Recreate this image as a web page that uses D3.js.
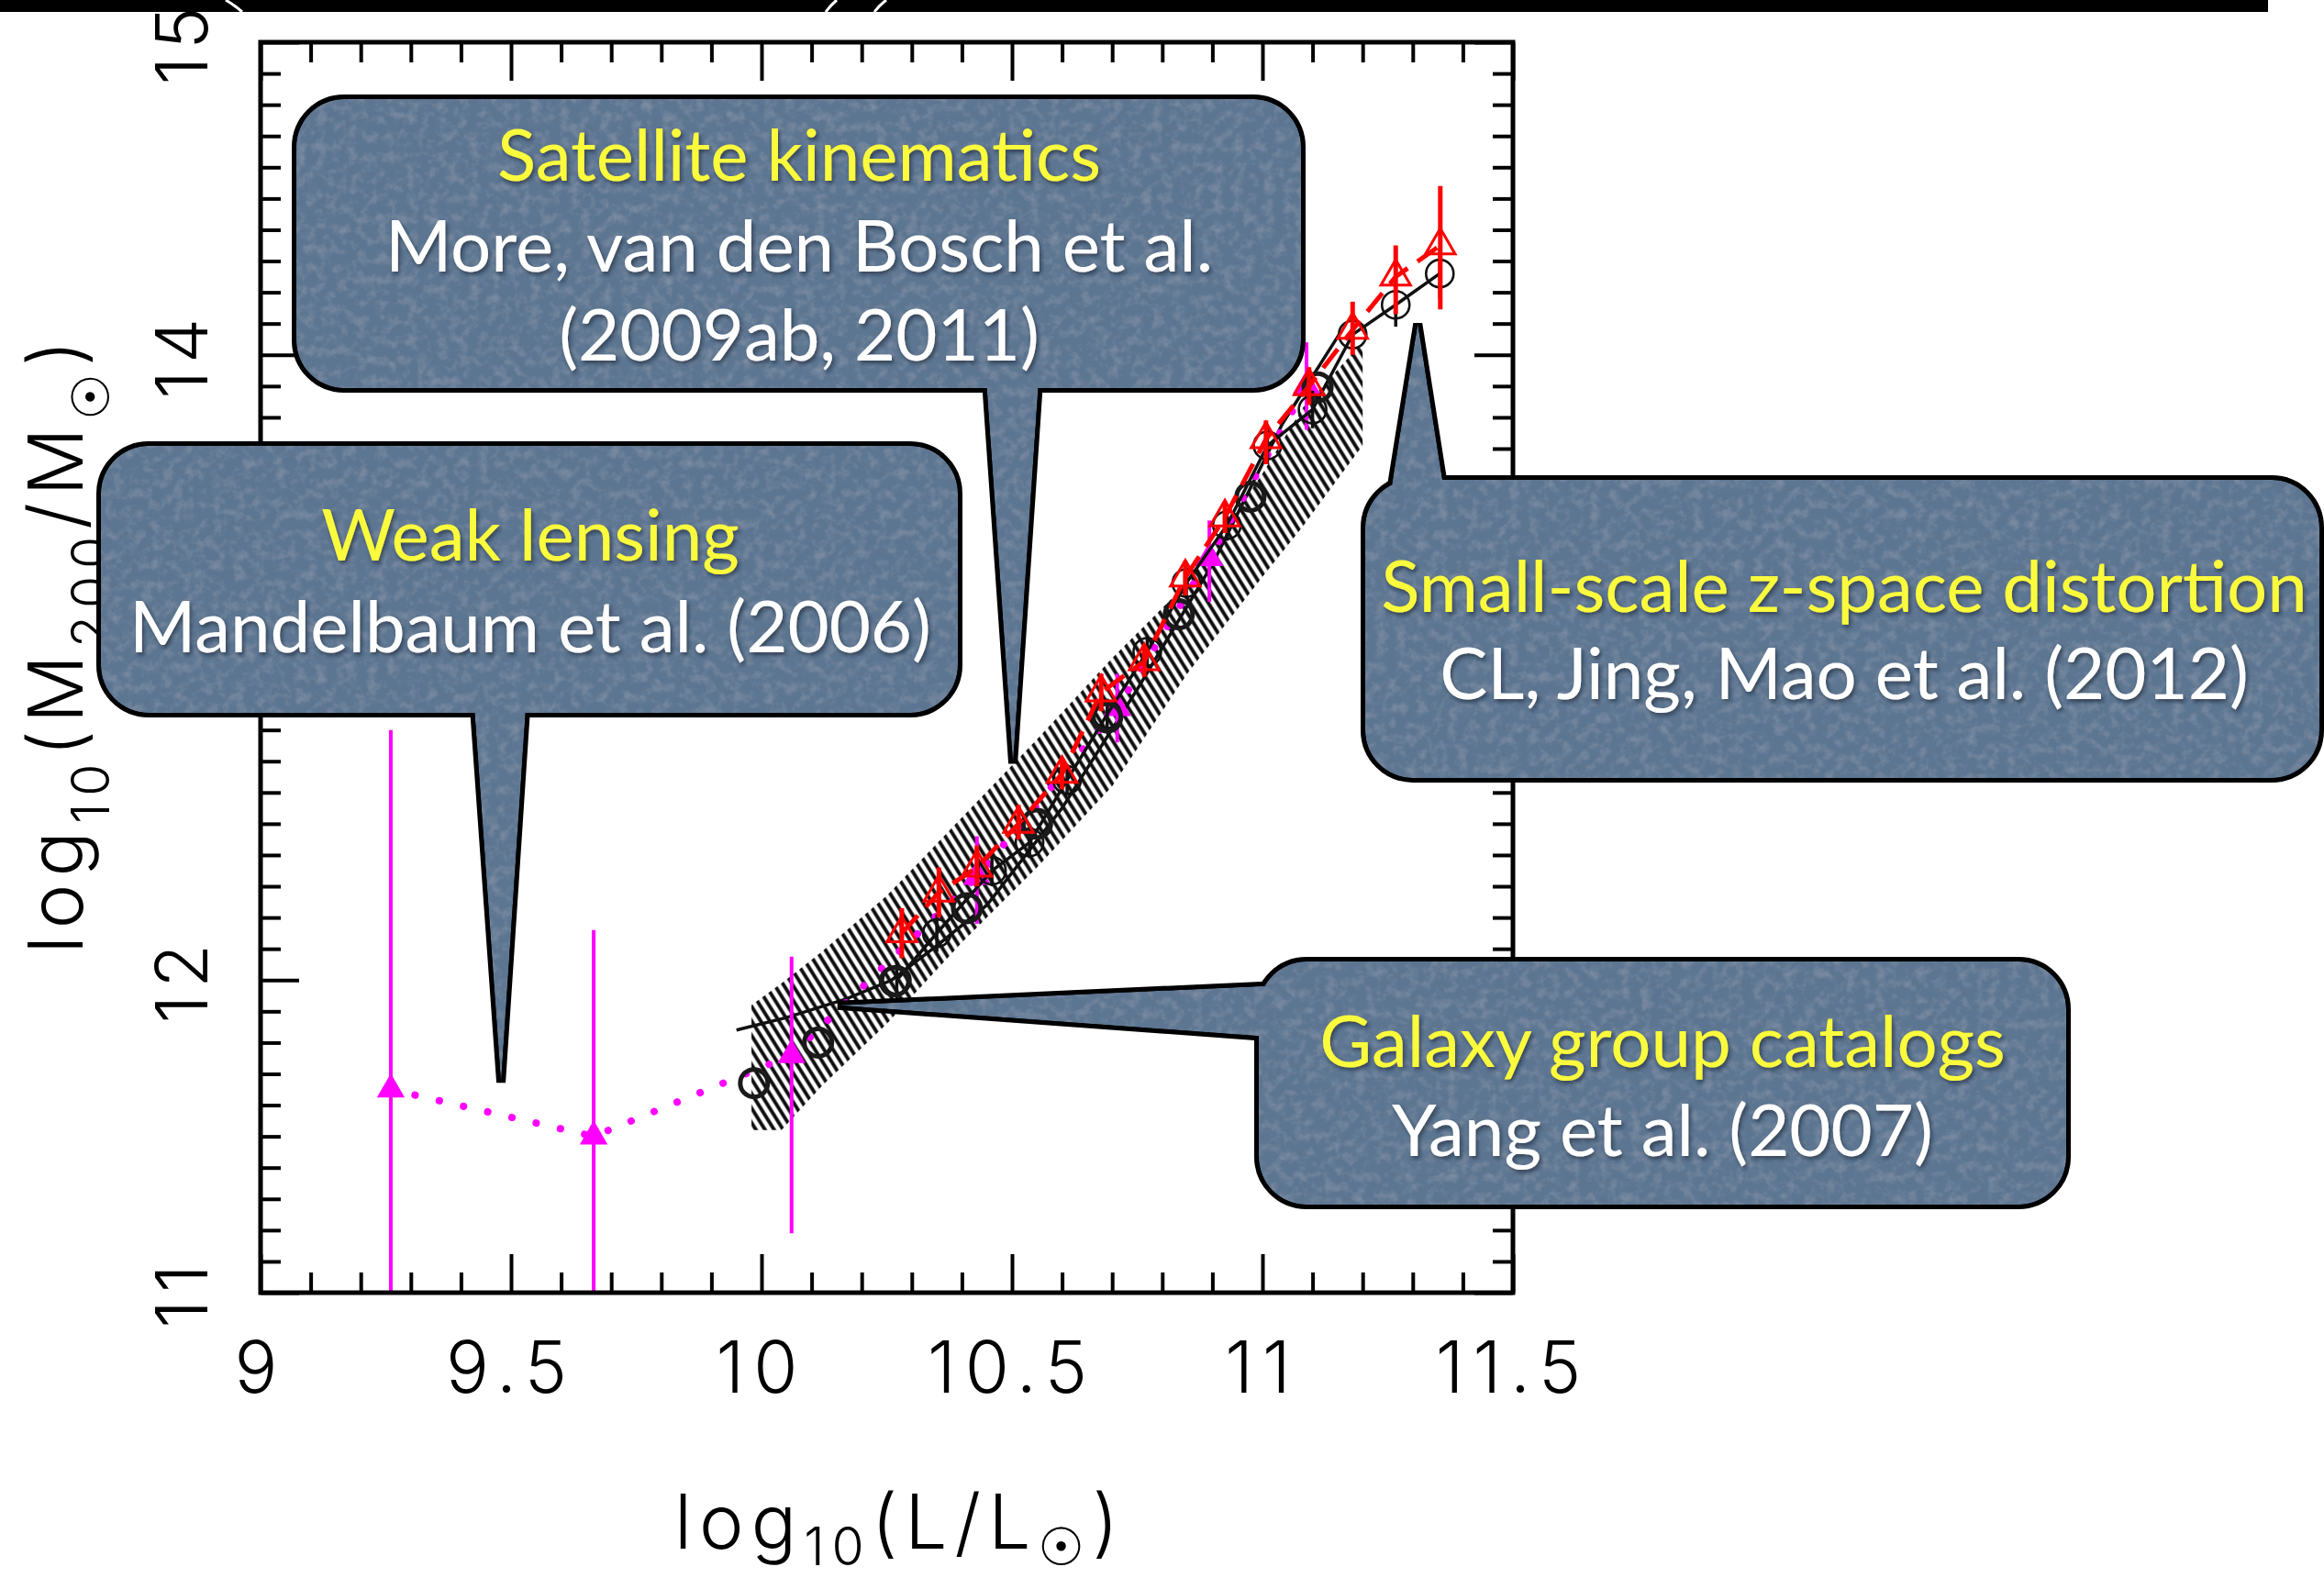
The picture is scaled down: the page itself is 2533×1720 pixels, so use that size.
<!DOCTYPE html>
<html>
<head>
<meta charset="utf-8">
<script src="https://cdn.jsdelivr.net/npm/d3@7"></script>
<style>
  html, body { margin: 0; padding: 0; background: #fff; }
  svg { display: block; }
</style>
</head>
<body>
<script>
// ---------------------------------------------------------------
// Halo mass vs. luminosity: four independent constraints
// ---------------------------------------------------------------

// axis ticks
const xMajor = [9, 9.5, 10, 10.5, 11, 11.5];
const xLabels = ["9", "9.5", "10", "10.5", "11", "11.5"];
const yMajor = [11, 12, 13, 14, 15];
const yLabels = ["11", "12", "13", "14", "15"];

// weak lensing: filled magenta triangles joined by a dotted line
const lensX  = [9.26, 9.665, 10.06, 10.43, 10.71, 10.894, 11.088];
const lensY  = [11.65, 11.50, 11.76, 12.33, 12.87, 13.35, 13.90];
const lensLo = [10.80, 10.80, 11.19, 12.18, 12.76, 13.21, 13.76];
const lensHi = [12.80, 12.16, 12.075, 12.46, 12.98, 13.47, 14.04];

// group catalogue: hatched range and mean relation
const bandX  = [9.98, 10.04, 10.12, 10.25, 10.40, 10.55, 10.70, 10.85, 11.00, 11.08, 11.20];
const bandLo = [11.52, 11.52, 11.66, 11.86, 12.12, 12.36, 12.62, 12.98, 13.29, 13.45, 13.71];
const bandHi = [11.92, 11.99, 12.09, 12.27, 12.52, 12.77, 13.03, 13.27, 13.62, 13.83, 14.04];
const groupX = [9.95, 10.05, 10.17, 10.26, 10.35, 10.45, 10.60, 10.75, 10.90, 11.04, 11.155];
const groupY = [11.84, 11.88, 11.94, 12.00, 12.11, 12.24, 12.55, 12.93, 13.33, 13.78, 14.07];

// satellite kinematics: heavy open circles
const boldX = [9.985, 10.113, 10.266, 10.41, 10.55, 10.69, 10.833, 10.976, 11.11];
const boldY = [11.67, 11.80, 11.996, 12.23, 12.50, 12.84, 13.17, 13.546, 13.896];

// redshift-space distortion: open circles (solid line) and open triangles (dashed)
const circX   = [10.27, 10.35, 10.46, 10.535, 10.61, 10.69, 10.77, 10.848, 10.929, 11.01, 11.10, 11.18, 11.266, 11.354];
const circY   = [12.00, 12.15, 12.35, 12.44, 12.64, 12.85, 13.05, 13.27, 13.455, 13.71, 13.825, 14.065, 14.16, 14.26];
const circErr = [0.06, 0.06, 0.05, 0.05, 0.05, 0.05, 0.05, 0.05, 0.05, 0.06, 0.06, 0.07, 0.07, 0.08];

const triX  = [10.28, 10.354, 10.43, 10.513, 10.60, 10.678, 10.764, 10.846, 10.925, 11.007, 11.093, 11.18, 11.266, 11.355];
const triY  = [12.15, 12.28, 12.36, 12.50, 12.66, 12.92, 13.02, 13.288, 13.48, 13.73, 13.90, 14.08, 14.25, 14.35];
const triLo = [12.07, 12.20, 12.30, 12.45, 12.61, 12.86, 12.97, 13.23, 13.43, 13.65, 13.84, 14.00, 14.13, 14.145];
const triHi = [12.23, 12.36, 12.43, 12.56, 12.71, 12.98, 13.07, 13.34, 13.53, 13.79, 13.96, 14.17, 14.35, 14.54];

// call-out text and where each pointer lands (data units)
const calloutTitles = ["Satellite kinematics", "Weak lensing", "Small-scale z-space distortion", "Galaxy group catalogs"];
const calloutRefs = [
  ["More, van den Bosch et al.", "(2009ab, 2011)"],
  ["Mandelbaum et al. (2006)"],
  ["CL, Jing, Mao et al. (2012)"],
  ["Yang et al. (2007)"]
];
const calloutTips = [[10.502, 12.693], [9.48, 11.672], [11.31, 14.10], [10.152, 11.919]];

// ---------------------------------------------------------------
const W = 2533, H = 1720;
const frame = { left: 284, right: 1649, top: 46, bottom: 1409 };

const svg = d3.select("body").append("svg")
  .attr("width", W).attr("height", H).attr("viewBox", `0 0 ${W} ${H}`);
svg.append("rect").attr("width", W).attr("height", H).attr("fill", "#fff");

const x = d3.scaleLinear().domain([9, 11.5]).range([frame.left, frame.right]);
const y = d3.scaleLinear().domain([11, 15]).range([frame.bottom, frame.top]);

const defs = svg.append("defs");

// diagonal hatching for the group range
const hatch = defs.append("pattern")
  .attr("id", "hatch").attr("patternUnits", "userSpaceOnUse")
  .attr("width", 8.4).attr("height", 40)
  .attr("patternTransform", "rotate(-32)");
hatch.append("line")
  .attr("x1", 4.2).attr("x2", 4.2).attr("y1", -10).attr("y2", 50)
  .attr("stroke", "#0d0d0d").attr("stroke-width", 3.9);

defs.append("clipPath").attr("id", "plotClip")
  .append("rect")
  .attr("x", frame.left).attr("y", frame.top)
  .attr("width", frame.right - frame.left).attr("height", frame.bottom - frame.top);

// soft slate texture for the call-outs
const grain = defs.append("filter").attr("id", "grain")
  .attr("filterUnits", "userSpaceOnUse")
  .attr("x", 0).attr("y", 0).attr("width", W).attr("height", H);
grain.append("feTurbulence").attr("type", "fractalNoise")
  .attr("baseFrequency", "0.09").attr("numOctaves", 4).attr("seed", 11).attr("result", "noise");
grain.append("feColorMatrix").attr("in", "noise").attr("type", "matrix")
  .attr("values", "0 0 0 0 1  0 0 0 0 1  0 0 0 0 1  0.22 0 0 0 -0.095").attr("result", "light");
grain.append("feColorMatrix").attr("in", "noise").attr("type", "matrix")
  .attr("values", "0 0 0 0 0.1  0 0 0 0 0.15  0 0 0 0 0.25  -0.22 0 0 0 0.09").attr("result", "dark");
const gm = grain.append("feMerge").attr("result", "merged");
gm.append("feMergeNode").attr("in", "SourceGraphic");
gm.append("feMergeNode").attr("in", "light");
gm.append("feMergeNode").attr("in", "dark");
grain.append("feComposite").attr("in", "merged").attr("in2", "SourceAlpha").attr("operator", "in");

const tshadow = defs.append("filter").attr("id", "tshadow")
  .attr("x", "-5%").attr("y", "-30%").attr("width", "110%").attr("height", "160%");
tshadow.append("feDropShadow").attr("dx", 2).attr("dy", 3).attr("stdDeviation", 2.2)
  .attr("flood-color", "#18202b").attr("flood-opacity", 0.6);

// ---------------------------------------------------------------
// axis labels (drawn first so call-outs may cover them)
const axisFont = "Inter, 'DejaVu Sans', sans-serif";

svg.append("g").selectAll("text").data(xMajor).join("text")
  .attr("x", d => x(d)).attr("y", 1518)
  .attr("text-anchor", "middle")
  .attr("font-family", axisFont).attr("font-weight", 300)
  .attr("font-size", 78).attr("letter-spacing", 10)
  .text((d, i) => xLabels[i]);

svg.append("g").selectAll("text").data(yMajor).join("text")
  .attr("transform", d => `translate(226,${y(d)}) rotate(-90)`)
  .attr("text-anchor", "middle")
  .attr("font-family", axisFont).attr("font-weight", 300)
  .attr("font-size", 78).attr("letter-spacing", 8)
  .text((d, i) => yLabels[i]);

// axis titles
function titleText(sel, parts) {
  parts.forEach(p => {
    sel.append("tspan")
      .attr("font-size", p.sub ? 57 : 82)
      .attr("dy", p.dy || 0)
      .attr("font-family", p.sym ? "'DejaVu Sans', sans-serif" : null)
      .text(p.t);
  });
}
const xt = svg.append("text")
  .attr("x", 981).attr("y", 1688).attr("text-anchor", "middle")
  .attr("font-family", axisFont).attr("font-weight", 300).attr("letter-spacing", 8);
titleText(xt, [
  { t: "log" }, { t: "10", sub: true, dy: 18 }, { t: "(L/L", dy: -18 },
  { t: "☉", sub: true, sym: true, dy: 18 }, { t: ")", dy: -18 }
]);

const yt = svg.append("text")
  .attr("transform", "translate(90,701) rotate(-90)").attr("text-anchor", "middle")
  .attr("font-family", axisFont).attr("font-weight", 300).attr("letter-spacing", 8);
titleText(yt, [
  { t: "log" }, { t: "10", sub: true, dy: 29 }, { t: "(M", dy: -29 },
  { t: "200", sub: true, dy: 29 }, { t: "/M", dy: -29 },
  { t: "☉", sub: true, sym: true, dy: 29 }, { t: ")", dy: -29 }
]);

// ---------------------------------------------------------------
// data layer, clipped to the frame
const plot = svg.append("g").attr("clip-path", "url(#plotClip)");

const band = d3.area()
  .x((d, i) => x(bandX[i]))
  .y0((d, i) => y(bandLo[i]))
  .y1((d, i) => y(bandHi[i]));
plot.append("path").attr("d", band(bandX)).attr("fill", "url(#hatch)");

const lineOf = (xs, ys) => d3.line().x((d, i) => x(xs[i])).y((d, i) => y(ys[i]))(xs);

plot.append("path").attr("d", lineOf(groupX, groupY))
  .attr("fill", "none").attr("stroke", "#111").attr("stroke-width", 3.5);

// weak lensing
plot.append("g").selectAll("line").data(lensX).join("line")
  .attr("x1", d => x(d)).attr("x2", d => x(d))
  .attr("y1", (d, i) => y(lensLo[i])).attr("y2", (d, i) => y(lensHi[i]))
  .attr("stroke", "#ff00ff").attr("stroke-width", 4);
plot.append("path").attr("d", lineOf(lensX, lensY))
  .attr("fill", "none").attr("stroke", "#ff00ff").attr("stroke-width", 8)
  .attr("stroke-linecap", "round").attr("stroke-dasharray", "0.1 27");
plot.append("g").selectAll("path").data(lensX).join("path")
  .attr("transform", (d, i) => `translate(${x(d)},${y(lensY[i])})`)
  .attr("d", d3.symbol().type(d3.symbolTriangle).size(400)())
  .attr("fill", "#ff00ff");

// open circles with solid line
plot.append("g").selectAll("line").data(circX).join("line")
  .attr("x1", d => x(d)).attr("x2", d => x(d))
  .attr("y1", (d, i) => y(circY[i] - circErr[i])).attr("y2", (d, i) => y(circY[i] + circErr[i]))
  .attr("stroke", "#111").attr("stroke-width", 3.5);
plot.append("path").attr("d", lineOf(circX, circY))
  .attr("fill", "none").attr("stroke", "#111").attr("stroke-width", 3.5);
plot.append("g").selectAll("circle").data(circX).join("circle")
  .attr("cx", d => x(d)).attr("cy", (d, i) => y(circY[i])).attr("r", 15)
  .attr("fill", "none").attr("stroke", "#111").attr("stroke-width", 2.6);

// heavy circles
plot.append("g").selectAll("circle").data(boldX).join("circle")
  .attr("cx", d => x(d)).attr("cy", (d, i) => y(boldY[i])).attr("r", 15)
  .attr("fill", "none").attr("stroke", "#1a1a1a").attr("stroke-width", 5);

// open triangles with dashed line
plot.append("g").selectAll("line").data(triX).join("line")
  .attr("x1", d => x(d)).attr("x2", d => x(d))
  .attr("y1", (d, i) => y(triLo[i])).attr("y2", (d, i) => y(triHi[i]))
  .attr("stroke", "#ff0000").attr("stroke-width", 5);
plot.append("path").attr("d", lineOf(triX, triY))
  .attr("fill", "none").attr("stroke", "#ff0000").attr("stroke-width", 5)
  .attr("stroke-dasharray", "26 13");
plot.append("g").selectAll("path").data(triX).join("path")
  .attr("transform", (d, i) => `translate(${x(d)},${y(triY[i])})`)
  .attr("d", d3.symbol().type(d3.symbolTriangle).size(450)())
  .attr("fill", "none").attr("stroke", "#ff0000").attr("stroke-width", 3);

// ---------------------------------------------------------------
// frame and inward ticks
const xMinor = d3.range(9.1, 11.45, 0.1).map(v => +v.toFixed(1)).filter(v => !xMajor.includes(v));
const yMinor = d3.range(11.1, 14.95, 0.1).map(v => +v.toFixed(1)).filter(v => !yMajor.includes(v));

function ticks(axis, tr) {
  const g = svg.append("g").attr("transform", tr).call(axis);
  g.select(".domain").remove();
  g.selectAll("line").attr("stroke", "#000").attr("stroke-width", 4);
  g.selectAll("text").remove();
}
ticks(d3.axisBottom(x).tickValues(xMinor).tickSize(-22).tickFormat(""), `translate(0,${frame.bottom})`);
ticks(d3.axisBottom(x).tickValues(xMajor).tickSize(-42).tickFormat(""), `translate(0,${frame.bottom})`);
ticks(d3.axisTop(x).tickValues(xMinor).tickSize(-22).tickFormat(""), `translate(0,${frame.top})`);
ticks(d3.axisTop(x).tickValues(xMajor).tickSize(-42).tickFormat(""), `translate(0,${frame.top})`);
ticks(d3.axisLeft(y).tickValues(yMinor).tickSize(-22).tickFormat(""), `translate(${frame.left},0)`);
ticks(d3.axisLeft(y).tickValues(yMajor).tickSize(-42).tickFormat(""), `translate(${frame.left},0)`);
ticks(d3.axisRight(y).tickValues(yMinor).tickSize(-22).tickFormat(""), `translate(${frame.right},0)`);
ticks(d3.axisRight(y).tickValues(yMajor).tickSize(-42).tickFormat(""), `translate(${frame.right},0)`);

svg.append("rect")
  .attr("x", frame.left).attr("y", frame.top)
  .attr("width", frame.right - frame.left).attr("height", frame.bottom - frame.top)
  .attr("fill", "none").attr("stroke", "#000").attr("stroke-width", 5);

// ---------------------------------------------------------------
// call-outs
const boxLayout = [
  { x0: 323,  y0: 108,  x1: 1418, y1: 423,  r: 52, base: [[1074, 400], [1133, 400]], cx: 871,  baselines: [197, 296, 393] },
  { x0: 110,  y0: 486,  x1: 1044, y1: 777,  r: 52, base: [[516, 757], [574, 757]],  cx: 578,  baselines: [611, 711] },
  { x0: 1488, y0: 523,  x1: 2528, y1: 848,  r: 52, base: [[1514, 548], [1576, 548]], cx: 2010, baselines: [667, 762] },
  { x0: 1372, y0: 1048, x1: 2252, y1: 1313, r: 52, base: [[1396, 1074], [1396, 1131]], cx: 1812, baselines: [1163, 1260] }
];

function roundRect(b) {
  const { x0, y0, x1, y1, r } = b;
  return `M${x0 + r},${y0}H${x1 - r}A${r},${r} 0 0 1 ${x1},${y0 + r}V${y1 - r}` +
         `A${r},${r} 0 0 1 ${x1 - r},${y1}H${x0 + r}A${r},${r} 0 0 1 ${x0},${y1 - r}` +
         `V${y0 + r}A${r},${r} 0 0 1 ${x0 + r},${y0}Z`;
}
function wedge(b, tip) {
  const t = [x(tip[0]), y(tip[1])];
  return `M${b.base[0][0]},${b.base[0][1]}L${t[0]},${t[1]}L${b.base[1][0]},${b.base[1][1]}Z`;
}

const boxFont = "Lato, 'Open Sans', sans-serif";
boxLayout.forEach((b, i) => {
  const g = svg.append("g");
  const shapes = [roundRect(b), wedge(b, calloutTips[i])];
  // outline underneath, fill on top gives a single merged silhouette
  g.append("g").selectAll("path").data(shapes).join("path")
    .attr("d", d => d).attr("fill", "#000").attr("stroke", "#000")
    .attr("stroke-width", 10).attr("stroke-linejoin", "miter");
  g.append("g").attr("filter", "url(#grain)")
    .selectAll("path").data(shapes).join("path")
    .attr("d", d => d).attr("fill", "#5b7491");
  const lines = [calloutTitles[i], ...calloutRefs[i]];
  g.append("g").attr("filter", "url(#tshadow)")
    .selectAll("text").data(lines).join("text")
    .attr("x", b.cx).attr("y", (d, k) => b.baselines[k])
    .attr("text-anchor", "middle")
    .attr("font-family", boxFont).attr("font-size", 78)
    .attr("fill", (d, k) => k === 0 ? "#fbfb3c" : "#ffffff")
    .text(d => d);
});

// ---------------------------------------------------------------
// black banner along the top edge
svg.append("rect").attr("x", 0).attr("y", 0).attr("width", 2472).attr("height", 13).attr("fill", "#000");
svg.append("path").attr("d", "M246,0 Q256,6 264,13").attr("fill", "none").attr("stroke", "#fff").attr("stroke-width", 3);
svg.append("path").attr("d", "M900,13 Q905,6 912,0").attr("fill", "none").attr("stroke", "#fff").attr("stroke-width", 3);
svg.append("path").attr("d", "M953,13 Q958,6 966,0").attr("fill", "none").attr("stroke", "#fff").attr("stroke-width", 3);
</script>
</body>
</html>
